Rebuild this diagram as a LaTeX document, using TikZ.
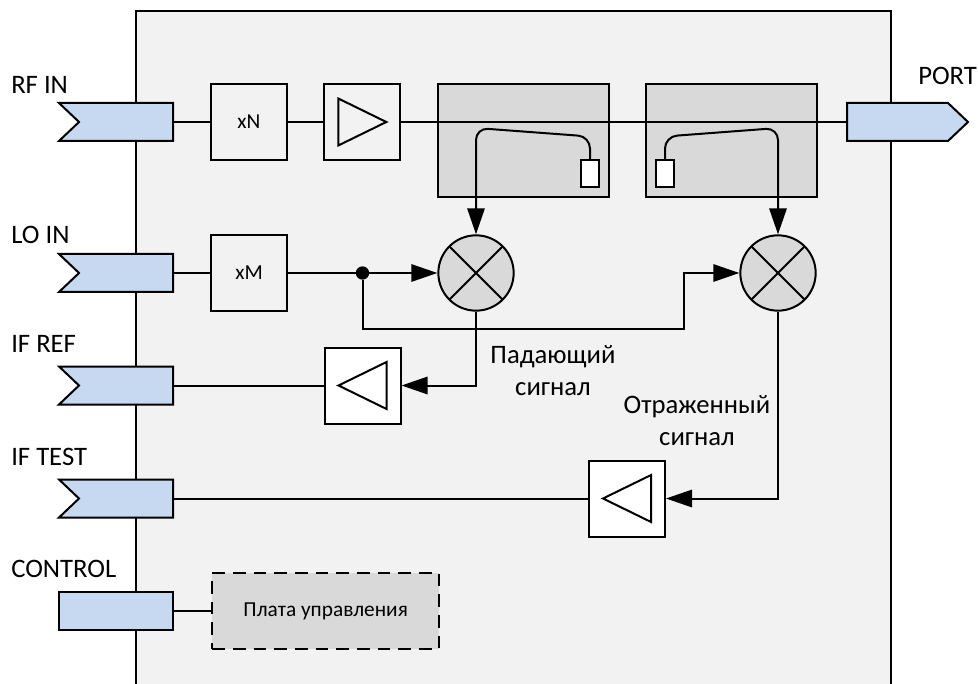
\documentclass[tikz,border=0pt]{standalone}
\usepackage{fontspec}
\setmainfont{Carlito}
\usepackage{tikz}
\usetikzlibrary{
	shapes.symbols,             % For the port signal shapes
	arrows.meta,
	positioning,
	calc
}
\definecolor{portblue}{HTML}{C6D9F1}
\definecolor{blockgray}{HTML}{D9D9D9}
\definecolor{casegray}{HTML}{F2F2F2}
\tikzset{
	inport/.style={
		signal,
		signal from=west,
		signal to=nowhere,
		signal pointer angle=87,
		draw,
		line width=1.5pt,
		fill=portblue,
		inner sep=0pt,
		minimum width=85.5pt,
		minimum height=28.5pt,
		anchor=east
	},
	outport/.style={
		inport,
		signal from=nowhere,
		signal to=east,
		minimum width=90.75pt,
		anchor=west
	},
	ctrlport/.style={
		rectangle,
		draw,
		line width=1.5pt,
		fill=portblue,
		minimum width=85.5pt,
		minimum height=28.5pt,
		anchor=east
	},
	block/.style={
		rectangle,
		draw,
		line width=1.5pt,
		inner sep=0pt,
		minimum size=57pt,
		font=\fontsize{16}{18}\selectfont
	},
	coupler/.style={
		rectangle,
		draw,
		line width=1.5pt,
		fill=blockgray,
		minimum width=128.25pt,
		minimum height=84.4pt
	},
	load/.style={
		rectangle,
		draw,
		line width=1.5pt,
		fill=white,
		minimum width=14pt,
		minimum height=20.25pt
	},
	mixer/.style={
		circle,
		draw,
		line width=1.5pt,
		fill=blockgray,
		inner sep=0pt,
		minimum size=56.5pt,
		path picture={
			\draw[line width=1.5pt] (path picture bounding box.south west) -- (path picture bounding box.north east);
			\draw[line width=1.5pt] (path picture bounding box.north west) -- (path picture bounding box.south east);
		}
	},
	ampright/.style={
		block,
		path picture={
			\draw[line width=1.5pt] ([shift={(-18pt,17.6pt)}]path picture bounding box.center) -- ([shift={(18pt,0pt)}]path picture bounding box.center) -- ([shift={(-18pt,-17.6pt)}]path picture bounding box.center) -- cycle;
		}
	},
	ampleft/.style={
		block,
		fill=white,
		path picture={
			\draw[line width=1.5pt] ([shift={(18pt,17.6pt)}]path picture bounding box.center) -- ([shift={(-18pt,0pt)}]path picture bounding box.center) -- ([shift={(18pt,-17.6pt)}]path picture bounding box.center) -- cycle;
		}
	},
	dot/.style={
		circle,
		fill=black,
		inner sep=0pt,
		minimum size=10pt
	},
	wire/.style={
		line width=1.5pt
	},
	arrow/.style={
		wire,
		-{Triangle[length=19.5pt,width=13pt]}
	},
	portlabel/.style={
		anchor=west,
		inner sep=0pt,
		font=\fontsize{20}{24}\selectfont
	},
	caption/.style={
		align=center,
		inner sep=0pt,
		font=\fontsize{20}{24}\selectfont
	}
}

\begin{document}
\begin{tikzpicture}[x=0.75pt, y=-0.75pt, node distance=26.5pt]
	\useasboundingbox (0,0) rectangle (978,684);

	% Case, open at the bottom
	\draw[wire, fill=casegray] (136,684) -- (136,11) -- (891,11) -- (891,684);

	% Ports
	\node [inport] (rfin) at (174,122) {};
	\node [inport] (loin) at (174,273) {};
	\node [inport] (ifref) at (174,385.5) {};
	\node [inport] (iftest) at (174,498.5) {};
	\node [ctrlport] (control) at (174,611) {};
	\node [outport] (port) at (846,122) {};

	\node [portlabel] (rfinlabel) at (11,85) {RF IN};
	\node [portlabel] (loinlabel) at (11,235) {LO IN};
	\node [portlabel] (ifreflabel) at (11,344) {IF REF};
	\node [portlabel] (iftestlabel) at (11,457) {IF TEST};
	\node [portlabel] (controllabel) at (11,569) {CONTROL};
	\node [portlabel] (portlabel) at (918,76) {PORT};

	% Row 1: multiplier, amplifier, couplers
	\node [block, right=27pt of rfin] (xn) {xN};
	\node [ampright, right=of xn] (ampa) {};
	\node [coupler, right=of ampa, yshift=-14pt] (cpla) {};
	\node [coupler, right=of cpla] (cplb) {};

	% Row 2: multiplier and mixers
	\node [block, right=27pt of loin] (xm) {xM};
	\node [mixer] (mixa) at (476,273) {};
	\node [mixer] (mixb) at (778,273) {};
	\node [dot] (split) at (362.5,273) {};

	% IF amplifiers
	\node [ampleft] (ampb) at (362.5,385.5) {};
	\node [ampleft] (ampc) at (627,498.5) {};

	% Control board
	\node [block, right=28pt of control, dashed, dash pattern=on 9.5pt off 6pt, fill=blockgray, minimum width=170pt] (board) {Плата управления};

	% Signal captions
	\node [caption] (incident) at (553,371) {Падающий\\сигнал};
	\node [caption] (reflected) at (697,421) {Отраженный\\сигнал};

	% Edges & Connections
	\draw [wire] (rfin) -- (xn);
	\draw [wire] (xn) -- (ampa);
	\draw [wire] (ampa) -- (port);
	\draw [wire] (loin) -- (xm);
	\draw [wire] (xm) -- (split);
	\draw [arrow] (split) -- (mixa);
	\draw [arrow] (split) |- (684,328.5) -- (684,273) -- (mixb);
	\draw [arrow] (mixa) |- (ampb);
	\draw [arrow] (mixb) |- (ampc);
	\draw [wire] (ampb) -- (ifref);
	\draw [wire] (ampc) -- (iftest);
	\draw [wire] (control) -- (board);

	% Coupled arms and their loads
	\node [load] (loada) at (590,173.5) {};
	\node [load] (loadb) at (665,173.5) {};
	\draw [arrow, rounded corners=9pt] (loada) -- (590,136.5) -- (476,128) -- (mixa);
	\draw [arrow, rounded corners=9pt] (loadb) -- (665,136.5) -- (778,128) -- (mixb);
\end{tikzpicture}
\end{document}
